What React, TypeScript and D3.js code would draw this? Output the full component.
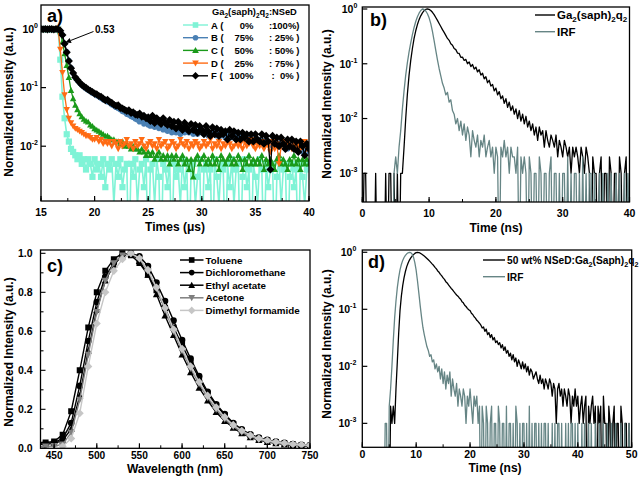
import React from "react";
import * as d3 from "d3";

const W = 639, H = 482;
const FONT = "'Liberation Sans', Arial, Helvetica, sans-serif";
const PEAK = 1000; // photon counts at maximum -> normalized 1.0

// ---------------- Panel a: transient decay (counts, t = 15 + 0.2 i, in µs) ----------------
const A_T0 = 15, A_STEP = 0.2;
const aKeys = ["A", "B", "C", "D", "F"];
const aPct1 = ["0%", "75%", "50%", "25%", "100%"];
const aPct2 = [":100%)", ": 25% )", ": 50% )", ": 75% )", ":  0% )"];
const aColors = ["#7ff3d6", "#4a80b4", "#1a9a1a", "#ff6b14", "#000000"];
const aMarkers = ["square", "circle", "triUp", "triDown", "diamond"];

const countsA = [1000,995,1000,990,1000,985,1000,995,990,
300,70,30,16,12,9,8,7,
6,7,5,6,4,6,5,3,6,4,5,3,6,2,
5,4,6,1,5,3,6,2,4,5,
0,5,3,6,1,4,5,2,6,0,
4,5,1,6,3,0,5,4,2,6,
0,5,3,4,1,6,2,5,0,4,
5,1,3,6,0,4,5,2,4,0,
6,3,1,5,4,0,5,2,6,1,
4,5,0,3,6,2,4,0,5,3,
1,6,4,0,5,2,4,5,0,3,
6,1,4,5,0,3,5,2,4,0,
5,3,1,4,5];
const countsB = [1000,995,985,1000,990,1000,985,995,1000,
940,800,570,410,290,218,176,148,132,120,110,
102,96,90,86,80,77,73,70,66,62,
60,57,55,51,49,46,44,42,39,38,
35,34,32,31,29,28,26,27,24,25,
23,22,24,21,22,20,21,19,20,18,
19,17,19,17,18,16,18,17,19,17,
18,16,18,16,19,17,16,18,15,17,
16,18,15,17,15,16,14,16,15,14,
16,13,15,14,13,15,12,14,13,12,
14,12,13,11,12,13,11,12,10,12,
11,10,12,10,11,9,11,10,9,11,
9,10,8,10,9,8];
const countsC = [1000,990,1000,995,985,1000,990,1000,995,
900,600,380,240,150,90,65,50,42,36,32,
29,27,26,23,22,20,19,18,17,16,15,
15,14,13,13,12,12,11,12,10,11,
10,9,10,9,9,8,9,8,7,8,
7,8,6,7,8,6,7,6,7,5,
7,6,7,5,6,7,5,6,4,6,
3,6,7,5,6,7,5,6,5,7,
5,6,4,7,6,5,6,7,5,6,
5,7,6,4,6,5,7,5,6,5,
6,5,7,4,6,5,6,5,4,6,
7,5,6,5,4,6,5,7,5,6,
4,6,5,6,5];
const countsD = [1000,985,1000,990,1000,995,985,1000,990,
450,180,75,42,30,25,22,20,19,18,
17,16,15,15,14,13,13,14,12,13,11,12,
11,12,10,12,11,9,12,10,11,13,
10,11,9,12,10,11,13,10,9,11,
12,10,11,9,13,10,11,12,9,10,
12,11,9,10,13,11,10,12,9,11,
10,12,11,9,10,12,10,11,13,9,
11,10,12,9,11,10,12,11,9,10,
12,10,11,9,12,10,11,13,10,9,
11,10,12,9,11,10,8,12,9,11,
5,10,12,9,11,10,9,12,10,11,
9,10,12,9,11];
const countsF = [1000,990,1000,985,1000,995,980,1000,990,
930,790,560,400,285,215,178,150,135,122,112,
105,99,93,88,84,79,77,72,70,65,
61,62,57,55,51,49,50,45,44,42,
40,41,37,38,35,34,36,32,33,30,
31,27,33,25,30,27,24,30,25,23,
28,22,26,20,26,22,19,25,21,18,
24,19,23,17,22,19,16,22,18,15,
21,16,20,15,19,16,18,13,19,15,
18,13,17,13,17,14,16,12,16,12,
16,13,12,16,11,15,12,4,15,11,
14,10,14,11,9,13,10,13,9,12,
8,12,10,7,11,9];
const aCounts = [countsA, countsB, countsC, countsD, countsF];
const aXTicks = [15, 20, 25, 30, 35, 40];

// ---------------- Panel b: TCSPC (counts, t = 0.25 i ns) ----------------
const B_STEP = 0.25;
const bSample = [0,1,1,0,0,0,0,0,1,0,
0,0,0,0,1,0,1,1,0,1,
0,1,0,1,1,3,10,28,62,115,
190,290,400,520,640,750,850,930,980,1000,
985,940,870,790,700,620,545,480,420,375,
330,290,268,232,218,190,181,157,154,131,
132,115,120,100,108,89,97,80,87,71,
78,62,67,53,58,45,50,39,42,32,
36,27,31,23,26,19,23,16,20,14,
17,12,15,10,14,9,12,8,11,7,
9,6,8,5,7,4,7,5,6,3,
6,4,3,5,4,3,5,2,4,3,
2,4,3,2,3,1,3,2,3,2,
1,3,2,1,3,2,1,0,2,1,
1,0,1,2,0,1,1,0,2,1,
0,1,1,0,2,1,0,1,2,0,
1];
const bIRF = [0,0,0,0,0,0,0,0,0,0,
0,0,0,0,0,0,0,0,0,1,
2,1,3,6,15,32,62,105,165,240,
340,460,590,720,840,940,1000,985,920,820,
690,540,390,265,175,118,82,60,44,36,
27,30,20,22,14,12,8,10,6,9,
5,8,4,7,5,2,6,4,3,5,
2,4,3,5,2,3,4,2,3,1,
3,2,0,3,2,4,2,3,1,3,
2,2,1,3,0,2,1,2,1,0,
2,1,0,1,1,0,2,1,0,1,
1,0,1,2,0,1,1,0,1,0,
1,1,0,2,0,1,0,1,1,0,
1,0,2,0,1,0,1,1,0,1,
0,0,1,0,1,0,0,1,0,1,
0,0,1,0,1,0,0,1,0,1,
0];
const bXTicks = [0, 10, 20, 30, 40];

// ---------------- Panel c: emission spectra ----------------
const wavelengths = [430,440,450,460,470,480,490,500,510,520,530,540,550,560,570,580,590,600,610,620,630,640,650,660,670,680,690,700,710,720,730,740,750];
const solvents = ["Toluene", "Dichloromethane", "Ethyl acetate", "Acetone", "Dimethyl formamide"];
const toluene = [.03,.03,.035,.07,.19,.40,.62,.80,.91,.97,1.0,.99,.95,.89,.81,.72,.62,.53,.44,.36,.28,.22,.17,.125,.09,.067,.05,.04,.032,.025,.02,.016,.013];
const dichloromethane = [.02,.025,.03,.05,.13,.32,.55,.75,.88,.95,.99,1.0,.985,.935,.85,.755,.655,.555,.46,.37,.29,.226,.176,.13,.097,.072,.055,.043,.035,.028,.022,.018,.015];
const ethylAcetate = [.02,.02,.025,.04,.10,.27,.50,.71,.86,.94,.99,1.0,.96,.89,.79,.68,.58,.48,.39,.31,.245,.185,.14,.105,.077,.056,.042,.032,.025,.019,.015,.012,.01];
const acetone = [.01,.01,.012,.02,.08,.25,.48,.70,.86,.95,.99,1.0,.97,.91,.82,.71,.60,.50,.41,.33,.26,.20,.15,.112,.083,.06,.045,.035,.027,.021,.017,.014,.012];
const dmf = [null,null,null,.01,.05,.18,.42,.64,.80,.91,.97,1.0,.975,.915,.825,.72,.61,.51,.42,.34,.27,.21,.16,.12,.09,.067,.05,.04,.032,.026,.021,.018,.015];
const cValues = [toluene, dichloromethane, ethylAcetate, acetone, dmf];
const cColors = ["#000000", "#000000", "#000000", "#7f7f7f", "#c6c6c6"];
const cMarkers = ["square", "circle", "triUp", "triDown", "diamond"];
const cXTicks = [450, 500, 550, 600, 650, 700, 750];
const cYTicks = [0, 0.2, 0.4, 0.6, 0.8, 1.0];

// ---------------- Panel d: TCSPC (counts, t = 0.25 i ns) ----------------
const D_STEP = 0.25;
const dSample = [0,0,0,0,0,0,0,0,0,0,
0,0,0,0,0,0,0,0,0,0,
0,2,1,2,1,4,12,38,95,170,
260,360,460,560,650,730,800,860,910,955,
985,1000,990,965,930,895,860,820,780,740,
700,660,620,585,545,510,470,445,410,385,
355,335,305,290,268,250,232,220,204,190,
178,170,158,150,136,130,118,112,104,98,
95,85,81,74,70,64,61,57,53,47,
49,41,45,36,39,32,36,29,32,26,
28,24,26,21,24,19,22,17,19,15,
17,13,16,12,14,10,13,11,9,12,
9,11,8,10,7,9,8,6,7,8,
6,5,7,5,6,4,6,5,4,6,
5,3,5,4,1,4,5,3,4,2,
4,3,2,4,3,1,3,2,4,2,
3,1,2,3,1,2,3,0,2,1,
2,3,1,2,0,2,1,2,0,3,
1,1,0,2,1,0,1,2,0,1,
1,0,2,1,0,1,1,0,1,0,
1];
const dIRF = [0,0,0,0,0,0,0,0,0,0,
0,0,0,0,0,0,0,1,1,0,
2,4,10,28,70,140,240,360,490,610,
720,810,880,940,980,1000,985,930,820,660,
480,310,190,115,72,48,36,28,22,19,
15,16,12,13,9,11,8,10,6,9,
5,8,4,7,5,8,3,6,4,3,
5,2,4,3,2,4,3,1,3,2,
4,2,1,3,2,3,1,2,0,2,
1,0,2,1,0,1,2,0,1,1,
0,2,1,0,1,1,0,2,0,1,
1,0,1,0,2,1,0,1,0,1,
1,0,1,0,2,0,1,0,1,1,
0,1,0,1,0,1,1,0,1,0,
0,1,0,1,0,1,1,0,1,0,
0,1,0,1,0,1,1,0,1,0,
1,0,0,1,0,1,0,0,1,0,
1,0,0,1,0,0,1,0,0,1,
0,0,1,0,0,1,0,0,1,0,
0,0,1,0,0,1,0,0,1,0,
0];
const dXTicks = [0, 10, 20, 30, 40, 50];
const IRF_COLOR = "#668585";

// ---------------- helpers ----------------
function symPath(kind: string, r: number): string {
  switch (kind) {
    case "square": return `M${-r},${-r}H${r}V${r}H${-r}Z`;
    case "circle": return `M${r},0A${r},${r} 0 1,1 ${-r},0A${r},${r} 0 1,1 ${r},0Z`;
    case "triUp": { const h = r * 1.2; return `M0,${-h}L${h},${h * 0.8}L${-h},${h * 0.8}Z`; }
    case "triDown": { const h = r * 1.2; return `M0,${h}L${h},${-h * 0.8}L${-h},${-h * 0.8}Z`; }
    case "diamond": { const h = r * 1.35; return `M0,${-h}L${h},0L0,${h}L${-h},0Z`; }
  }
  return "";
}

function Series({ xs, ys, xScale, yScale, color, lw = 1.3, marker, r = 3, floor = -Infinity }: any) {
  const pts = xs.map((x: number, i: number) => [x, ys[i]]).filter((p: any) => p[1] != null);
  const fy = (v: number) => yScale(Math.max(v, floor));
  const line = d3.line<any>().x((p) => xScale(p[0])).y((p) => fy(p[1]));
  return (
    <g>
      <path d={line(pts) || ""} fill="none" stroke={color} strokeWidth={lw} strokeLinejoin="round" />
      {marker && pts.map((p: any, i: number) => (
        <path key={i} d={symPath(marker, r)} transform={`translate(${xScale(p[0])},${fy(p[1])})`} fill={color} />
      ))}
    </g>
  );
}

function Frame({ box }: any) {
  return <rect x={box.l} y={box.t} width={box.r - box.l} height={box.b - box.t} fill="none" stroke="#000" strokeWidth={1.3} />;
}

function XAxis({ scale, box, major, minorStep, labelY, fmt = (v: number) => String(v), fs = 10.5 }: any) {
  const [d0, d1] = scale.domain();
  const minor = d3.range(Math.ceil(d0 / minorStep) * minorStep, d1 + 1e-9, minorStep);
  return (
    <g>
      {minor.map((v: number, i: number) => (
        <line key={"m" + i} x1={scale(v)} x2={scale(v)} y1={box.b} y2={box.b - 3} stroke="#000" strokeWidth={1} />
      ))}
      {major.map((v: number) => (
        <g key={v}>
          <line x1={scale(v)} x2={scale(v)} y1={box.b} y2={box.b - 5} stroke="#000" strokeWidth={1.2} />
          <text x={scale(v)} y={labelY} textAnchor="middle" fontSize={fs}>{fmt(v)}</text>
        </g>
      ))}
    </g>
  );
}

function LogYAxis({ scale, box, exps, labelX }: any) {
  return (
    <g>
      {exps.map((e: number) => {
        const y = scale(Math.pow(10, e));
        return (
          <g key={e}>
            <line x1={box.l} x2={box.l + 5} y1={y} y2={y} stroke="#000" strokeWidth={1.2} />
            <text x={labelX} y={y + 3.8} textAnchor="end" fontSize={10.5}>
              10<tspan dy={-5} fontSize={7}>{String(e)}</tspan>
            </text>
          </g>
        );
      })}
    </g>
  );
}

function YTitle({ x, y }: any) {
  return <text transform={`translate(${x},${y}) rotate(-90)`} textAnchor="middle" fontSize={12}>Normalized Intensity (a.u.)</text>;
}

function Clip({ id, box }: any) {
  return (
    <clipPath id={id}>
      <rect x={box.l} y={box.t} width={box.r - box.l} height={box.b - box.t} />
    </clipPath>
  );
}

// ---------------- Panels ----------------
function PanelA() {
  const box = { l: 41, r: 309, t: 5, b: 201 };
  const x = d3.scaleLinear().domain([15, 40]).range([box.l, box.r]);
  const y = d3.scaleLog().domain([Math.pow(10, -2.935), Math.pow(10, 0.41)]).range([box.b, box.t]);
  const floor = Math.pow(10, -4);
  const rowY = [25, 37.7, 50.4, 63.1, 75.8];
  const ang = Math.atan2(42.5 - 31.5, 65.5 - 93.5);
  const tip = [65.5, 42.5];
  const ah = 5.5, aw = 2.6;
  const bx = tip[0] - ah * Math.cos(ang), by = tip[1] - ah * Math.sin(ang);
  const head = `M${tip[0]},${tip[1]}L${bx + aw * Math.sin(ang)},${by - aw * Math.cos(ang)}L${bx - aw * Math.sin(ang)},${by + aw * Math.cos(ang)}Z`;
  return (
    <g>
      <defs><Clip id="clipA" box={box} /></defs>
      <g clipPath="url(#clipA)">
        {aCounts.map((cnt, k) => (
          <Series key={k} xs={cnt.map((_, i) => A_T0 + i * A_STEP)} ys={cnt.map((c) => c / PEAK)}
            xScale={x} yScale={y} color={aColors[k]} marker={aMarkers[k]} r={k === 4 ? 3.0 : k === 0 ? 3.1 : 2.7} lw={k === 0 ? 1.6 : 1.3} floor={floor} />
        ))}
      </g>
      <Frame box={box} />
      <XAxis scale={x} box={box} major={aXTicks} minorStep={2.5} labelY={216} />
      <LogYAxis scale={y} box={box} exps={[0, -1, -2]} labelX={box.l - 3} />
      <text x={175} y={231} textAnchor="middle" fontSize={12}>Times (μs)</text>
      <YTitle x={13} y={102} />
      <text x={47} y={21.7} fontSize={18}>a)</text>
      {/* annotation */}
      <text x={95} y={33} fontSize={10}>0.53</text>
      <line x1={93.5} y1={31.5} x2={bx} y2={by} stroke="#000" strokeWidth={1} />
      <path d={head} fill="#000" />
      {/* legend */}
      <text x={212} y={15} fontSize={9.3}>
        Ga<tspan dy={2.5} fontSize={6.5}>2</tspan><tspan dy={-2.5}>(saph)</tspan><tspan dy={2.5} fontSize={6.5}>2</tspan><tspan dy={-2.5}>q</tspan><tspan dy={2.5} fontSize={6.5}>2</tspan><tspan dy={-2.5}>:NSeD</tspan>
      </text>
      {aKeys.map((k, i) => (
        <g key={k}>
          <line x1={183} x2={208} y1={rowY[i]} y2={rowY[i]} stroke={aColors[i]} strokeWidth={1.4} />
          <path d={symPath(aMarkers[i], 2.8)} transform={`translate(195.5,${rowY[i]})`} fill={aColors[i]} />
          <text x={211} y={rowY[i] + 3.5} fontSize={9.5}>{k} (</text>
          <text x={253.5} y={rowY[i] + 3.5} fontSize={9.5} textAnchor="end">{aPct1[i]}</text>
          <text x={299.5} y={rowY[i] + 3.5} fontSize={9.5} textAnchor="end" style={{ whiteSpace: "pre" }}>{aPct2[i]}</text>
        </g>
      ))}
    </g>
  );
}

function PanelB() {
  const box = { l: 362.3, r: 629.5, t: 7, b: 202 };
  const x = d3.scaleLinear().domain([0, 40]).range([box.l, box.r]);
  const y = d3.scaleLog().domain([Math.pow(10, -3.524), Math.pow(10, 0.0365)]).range([box.b, box.t]);
  const floor = Math.pow(10, -5);
  return (
    <g>
      <defs><Clip id="clipB" box={box} /></defs>
      <g clipPath="url(#clipB)">
        <Series xs={bSample.map((_, i) => i * B_STEP)} ys={bSample.map((c) => c / PEAK)} xScale={x} yScale={y} color="#000" lw={1.3} floor={floor} />
        <Series xs={bIRF.map((_, i) => i * B_STEP)} ys={bIRF.map((c) => c / PEAK)} xScale={x} yScale={y} color={IRF_COLOR} lw={1.3} floor={floor} />
      </g>
      <Frame box={box} />
      <XAxis scale={x} box={box} major={bXTicks} minorStep={5} labelY={216.5} />
      <LogYAxis scale={y} box={box} exps={[0, -1, -2, -3]} labelX={box.l - 5} />
      <text x={496} y={232} textAnchor="middle" fontSize={12}>Time (ns)</text>
      <YTitle x={331} y={104} />
      <text x={370} y={26} fontSize={18}>b)</text>
      <line x1={535} x2={555} y1={15} y2={15} stroke="#000" strokeWidth={1.4} />
      <text x={557} y={19} fontSize={11.5}>
        Ga<tspan dy={2.8} fontSize={8}>2</tspan><tspan dy={-2.8}>(saph)</tspan><tspan dy={2.8} fontSize={8}>2</tspan><tspan dy={-2.8}>q</tspan><tspan dy={2.8} fontSize={8}>2</tspan>
      </text>
      <line x1={535} x2={555} y1={31.7} y2={31.7} stroke={IRF_COLOR} strokeWidth={1.4} />
      <text x={557} y={35.8} fontSize={11.5}>IRF</text>
    </g>
  );
}

function PanelC() {
  const box = { l: 40.5, r: 310, t: 250, b: 448.3 };
  const x = d3.scaleLinear().domain([434, 750]).range([box.l, box.r]);
  const y = d3.scaleLinear().domain([0, 1.017]).range([box.b, box.t]);
  const rowY = [260, 272.6, 285.2, 297.8, 310.4];
  return (
    <g>
      <defs><Clip id="clipC" box={box} /></defs>
      <g clipPath="url(#clipC)">
        {cValues.map((vals, k) => (
          <Series key={k} xs={wavelengths} ys={vals} xScale={x} yScale={y} color={cColors[k]} marker={cMarkers[k]} r={k === 1 ? 3.3 : 3} lw={1.4} />
        ))}
      </g>
      <Frame box={box} />
      <XAxis scale={x} box={box} major={cXTicks} minorStep={25} labelY={459} fs={10.2} />
      <g>
        {d3.range(0, 1.0001, 0.1).map((v, i) => (
          <line key={i} x1={box.l} x2={box.l + (i % 2 === 0 ? 5 : 3)} y1={y(v)} y2={y(v)} stroke="#000" strokeWidth={1.1} />
        ))}
        {cYTicks.map((v) => (
          <text key={v} x={box.l - 8} y={y(v) + 3.8} textAnchor="end" fontSize={10.5}>{v.toFixed(1)}</text>
        ))}
      </g>
      <text x={175} y={472.5} textAnchor="middle" fontSize={12}>Wavelength (nm)</text>
      <YTitle x={13} y={352} />
      <text x={47} y={271.7} fontSize={18}>c)</text>
      {solvents.map((s, i) => (
        <g key={s}>
          <line x1={180} x2={203.5} y1={rowY[i]} y2={rowY[i]} stroke={cColors[i]} strokeWidth={1.5} />
          <path d={symPath(cMarkers[i], 2.8)} transform={`translate(191.7,${rowY[i]})`} fill={cColors[i]} />
          <text x={205.5} y={rowY[i] + 3.5} fontSize={9.8}>{s}</text>
        </g>
      ))}
    </g>
  );
}

function PanelD() {
  const box = { l: 362.3, r: 631.7, t: 250, b: 447.3 };
  const x = d3.scaleLinear().domain([0, 50]).range([box.l, box.r]);
  const y = d3.scaleLog().domain([Math.pow(10, -3.42), Math.pow(10, 0.04)]).range([box.b, box.t]);
  const floor = Math.pow(10, -5);
  return (
    <g>
      <defs><Clip id="clipD" box={box} /></defs>
      <g clipPath="url(#clipD)">
        <Series xs={dSample.map((_, i) => i * D_STEP)} ys={dSample.map((c) => c / PEAK)} xScale={x} yScale={y} color="#000" lw={1.3} floor={floor} />
        <Series xs={dIRF.map((_, i) => i * D_STEP)} ys={dIRF.map((c) => c / PEAK)} xScale={x} yScale={y} color={IRF_COLOR} lw={1.3} floor={floor} />
      </g>
      <Frame box={box} />
      <XAxis scale={x} box={box} major={dXTicks} minorStep={5} labelY={457.5} />
      <LogYAxis scale={y} box={box} exps={[0, -1, -2, -3]} labelX={box.l - 6} />
      <text x={495} y={472} textAnchor="middle" fontSize={12}>Time (ns)</text>
      <YTitle x={331} y={344} />
      <text x={368} y={268.3} fontSize={18}>d)</text>
      <line x1={483} x2={505} y1={260} y2={260} stroke="#000" strokeWidth={1.4} />
      <text x={507} y={264} fontSize={10.2}>
        50 wt% NSeD:Ga<tspan dy={2.5} fontSize={7.2}>2</tspan><tspan dy={-2.5}>(Saph)</tspan><tspan dy={2.5} fontSize={7.2}>2</tspan><tspan dy={-2.5}>q</tspan><tspan dy={2.5} fontSize={7.2}>2</tspan>
      </text>
      <line x1={483} x2={505} y1={276.7} y2={276.7} stroke={IRF_COLOR} strokeWidth={1.4} />
      <text x={507} y={280.6} fontSize={10.2}>IRF</text>
    </g>
  );
}

export default function App() {
  return (
    <svg width={W} height={H} viewBox={`0 0 ${W} ${H}`}
      style={{ position: "absolute", left: 0, top: 0, background: "#fff" }}
      fontFamily={FONT} fontWeight="bold">
      <rect x={0} y={0} width={W} height={H} fill="#fff" />
      <PanelA />
      <PanelB />
      <PanelC />
      <PanelD />
    </svg>
  );
}
